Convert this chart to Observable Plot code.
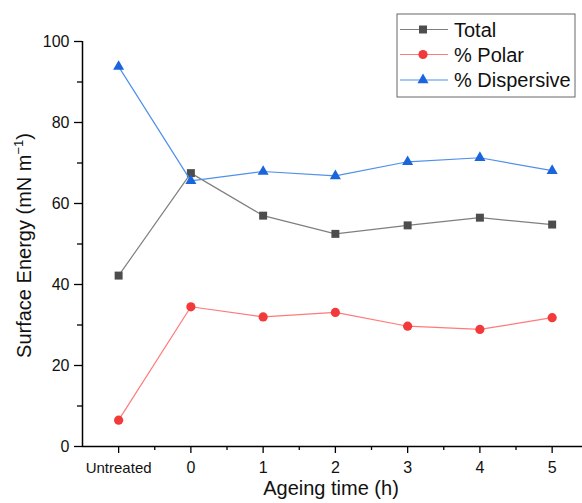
<!DOCTYPE html>
<html><head><meta charset="utf-8">
<script src="https://cdn.jsdelivr.net/npm/d3@7"></script>
<script src="https://cdn.jsdelivr.net/npm/@observablehq/plot@0.6"></script>
<style>
body{margin:0;background:#fff;}
svg{font-family:"Liberation Sans",Arial,sans-serif;}
</style>
</head><body><div id="chart"></div>
<script>
const categories = ["Untreated","0","1","2","3","4","5"];
const total      = [42.2, 67.5, 57.0, 52.5, 54.6, 56.5, 54.8];
const polar      = [6.5, 34.5, 32.0, 33.1, 29.7, 28.9, 31.8];
const dispersive = [93.8, 65.6, 67.9, 66.8, 70.3, 71.3, 68.1];
const seriesNames = ["Total", "% Polar", "% Dispersive"];
const yMajor = [0, 20, 40, 60, 80, 100];
const yMinor = [10, 30, 50, 70, 90];
const xLabel = "Ageing time (h)";

const styles = [
  {line:"#7f7f7f", mark:"#4d4d4d", symbol:"square", r:4.5},
  {line:"#ff7a7a", mark:"#f23a3a", symbol:"circle", r:4.6},
  {line:"#4f90ea", mark:"#1a64dc", symbol:"triangle", r:4.1}
];
const seriesVals = [total, polar, dispersive];
const toRows = vals => categories.map((c, i) => ({xv: i - 1, yv: vals[i], c}));
const xMajor = categories.map((c, i) => i - 1);
const xMinor = xMajor.slice(0, -1).map(v => v + 0.5);
const xDomain = [-1.5, 5.42];

const W = 582, H = 503, ML = 82, MR = 0, MT = 41, MB = 57;

const marks = [];
seriesVals.forEach((vals, k) => {
  const s = styles[k];
  marks.push(Plot.line(toRows(vals), {x:"xv", y:"yv", stroke:s.line, strokeWidth:1.2}));
  marks.push(Plot.dot(toRows(vals), {x:"xv", y:"yv", fill:s.mark, symbol:s.symbol, r:s.r, stroke:"none"}));
});

const blank = () => "";
const plot = Plot.plot({
  width: W, height: H,
  marginLeft: ML, marginRight: MR, marginTop: MT, marginBottom: MB,
  x: {type:"linear", domain: xDomain, axis: null},
  y: {domain: [0, 100], axis: null},
  style: {fontFamily: '"Liberation Sans", Arial, sans-serif', background: "#fff", color: "#000"},
  marks: [
    Plot.axisY(yMinor, {anchor:"left", tickSize:5, tickFormat: blank, label: null, stroke:"#000", strokeWidth:1.3}),
    Plot.axisY(yMajor, {anchor:"left", tickSize:8, tickPadding:5, fontSize:16, label: null, stroke:"#000", strokeWidth:1.3, fill:"#111"}),
    Plot.axisX(xMinor, {anchor:"bottom", tickSize:4, tickFormat: blank, label: null, stroke:"#000", strokeWidth:1.3}),
    Plot.axisX(xMajor.slice(0,1), {anchor:"bottom", tickSize:7, tickPadding:9, fontSize:15, label: null, stroke:"#000", strokeWidth:1.3, fill:"#111", tickFormat: d => categories[d + 1]}),
    Plot.axisX(xMajor.slice(1), {anchor:"bottom", tickSize:7, tickPadding:8, fontSize:16, label: null, stroke:"#000", strokeWidth:1.3, fill:"#111", tickFormat: d => categories[d + 1]}),
    Plot.ruleX([xDomain[0]], {stroke:"#000", strokeWidth:1.5}),
    Plot.ruleY([0], {stroke:"#000", strokeWidth:1.5}),
    ...marks
  ]
});
document.getElementById("chart").appendChild(plot);

const svg = d3.select(plot);
svg.append("text")
  .attr("x", ML + (W - ML - MR) / 2 - 1).attr("y", 495)
  .attr("text-anchor", "middle").attr("font-size", 20).attr("fill", "#111")
  .text(xLabel);
const yt = svg.append("text")
  .attr("transform", `translate(31,${MT + (H - MT - MB) / 2 + 2}) rotate(-90)`)
  .attr("text-anchor", "middle").attr("font-size", 20).attr("fill", "#111");
yt.append("tspan").text("Surface Energy (mN m");
yt.append("tspan").attr("font-size", 13).attr("dy", -8).text("\u22121");
yt.append("tspan").attr("dy", 8).text(")");

const lg = svg.append("g").attr("transform", "translate(397,14)");
lg.append("rect").attr("width", 178).attr("height", 83).attr("fill", "#fff").attr("stroke", "#666").attr("stroke-width", 1);
const rowY = [15.5, 40.5, 66];
seriesNames.forEach((name, k) => {
  const s = styles[k];
  const g = lg.append("g").attr("transform", `translate(0,${rowY[k]})`);
  g.append("line").attr("x1", 3).attr("x2", 51).attr("stroke", s.line).attr("stroke-width", 1.2);
  const sym = {square:d3.symbolSquare, circle:d3.symbolCircle, triangle:d3.symbolTriangle}[s.symbol];
  g.append("path").attr("transform", "translate(26,0)").attr("d", d3.symbol(sym, Math.PI * s.r * s.r)()).attr("fill", s.mark);
  g.append("text").attr("x", 57).attr("y", 7).attr("text-anchor", "start").attr("font-size", 20).attr("fill", "#111").text(name);
});
</script>
</body></html>
